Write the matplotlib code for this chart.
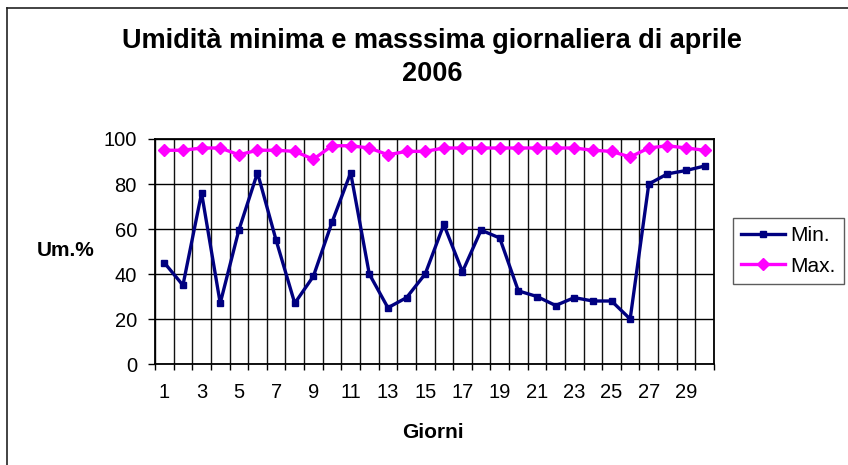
import matplotlib
matplotlib.use("Agg")
import matplotlib.pyplot as plt
from matplotlib.lines import Line2D

plt.rcParams['font.family'] = ['Liberation Sans', 'DejaVu Sans']

# ===== Data =====
giorni = list(range(1, 31))
um_min = [45, 35, 76, 27, 59.5, 85, 55, 27, 39, 63,
          85, 40, 25, 29.5, 40, 62, 41, 59.5, 56, 32.5,
          30, 26, 29.5, 28, 28, 20, 80, 84.5, 86, 88]
um_max = [95, 95, 96, 96, 93, 95, 95, 94.5, 91, 97,
          97, 96, 93, 94.5, 94.5, 96, 96, 96, 96, 96,
          96, 96, 96, 95, 94.5, 92, 96, 97, 96, 95]
x_labels = [str(g) for g in giorni[::2]]

W, H = 848, 465

# ===== Figure =====
fig = plt.figure(figsize=(W / 100, H / 100), dpi=100)

# chart border (only top and left visible in the crop)
fig.add_artist(Line2D([7 / W, 7 / W], [1 - 8 / H, 0], transform=fig.transFigure,
                      color='#222222', linewidth=1.2))
fig.add_artist(Line2D([7 / W, 1], [1 - 8 / H, 1 - 8 / H], transform=fig.transFigure,
                      color='#222222', linewidth=1.2))

ax = fig.add_axes([155 / W, 1 - 364 / H, 559 / W, 225 / H])

ax.plot(giorni, um_min, color='#000080', linewidth=2.4, marker='s', markersize=5, label='Min.')
ax.plot(giorni, um_max, color='#FF00FF', linewidth=2.4, marker='D', markersize=6, label='Max.')

ax.set_xlim(0.5, 30.5)
ax.set_ylim(0, 100)
ax.set_yticks(range(0, 101, 20))
ax.set_xticks(giorni[::2])
ax.set_xticklabels(x_labels)
ax.set_xticks([g + 0.5 for g in range(0, 31)], minor=True)

ax.grid(axis='y', color='black', linewidth=1.0)
ax.grid(axis='x', which='minor', color='#111111', linewidth=1.0)
ax.set_axisbelow(True)

ax.tick_params(axis='x', which='major', length=0, labelsize=14.5, pad=14)
ax.tick_params(axis='x', which='minor', length=4.5, direction='out', width=1)
ax.tick_params(axis='y', length=5, direction='out', width=1, labelsize=14.5, pad=8)
for s in ax.spines.values():
    s.set_color('black')
    s.set_linewidth(1.3)

fig.text(432 / W, 1 - 48 / H, 'Umidità minima e masssima giornaliera di aprile',
         ha='center', va='baseline', fontsize=19.5, fontweight='bold')
fig.text(432 / W, 1 - 81 / H, '2006',
         ha='center', va='baseline', fontsize=19.5, fontweight='bold')
fig.text(66 / W, 1 - 251 / H, 'Um.%', ha='center', va='center', fontsize=15, fontweight='bold')
fig.text(433 / W, 1 - 432 / H, 'Giorni', ha='center', va='center', fontsize=15, fontweight='bold')

leg = fig.legend(loc='upper left', bbox_to_anchor=(733 / W, 1 - 218 / H),
                 fontsize=15, frameon=True, fancybox=False, edgecolor='#333333',
                 borderpad=0.4, handlelength=2.1, labelspacing=0.55, handletextpad=0.25,
                 borderaxespad=0)
leg.get_frame().set_linewidth(1.0)

fig.savefig('out.png', dpi=100)
